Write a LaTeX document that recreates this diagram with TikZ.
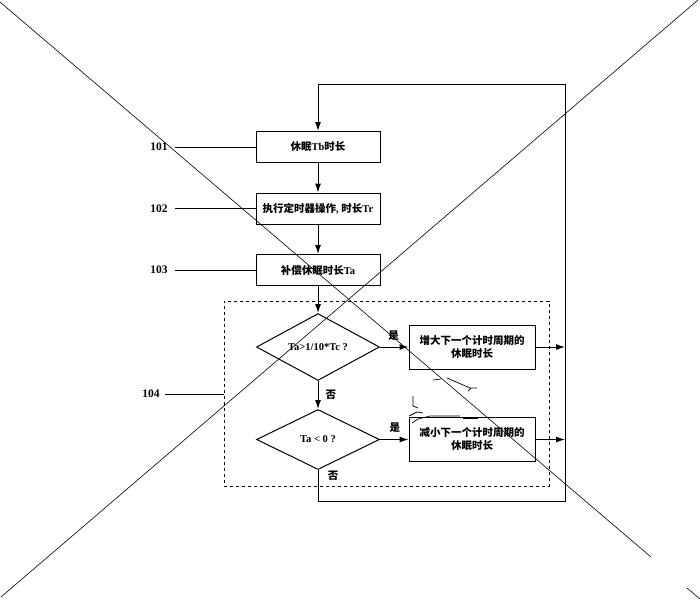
\documentclass[tikz,border=0pt]{standalone}
\usepackage{fontspec}
\setmainfont{Liberation Serif}
\newfontfamily\cjk{Noto Sans CJK SC}
\newcommand{\zh}[1]{{\cjk #1}}
\usetikzlibrary{shapes.geometric,arrows.meta}
\begin{document}
\begin{tikzpicture}[x=1pt,y=-1pt,
  every node/.style={font=\fontsize{10.5}{13}\selectfont\bfseries, inner sep=1pt},
  stepbox/.style={draw, line width=1pt, minimum width=124pt, minimum height=31pt},
  resbox/.style={draw, line width=1pt, minimum width=126pt, minimum height=44pt, align=center},
  decide/.style={draw, diamond, line width=1pt, minimum width=123pt, minimum height=60pt, inner sep=0pt},
  arr/.style={line width=1pt, -{Latex[length=9pt,width=6pt]}},
  lead/.style={line width=0.8pt},
  numlbl/.style={font=\fontsize{11.5}{13}\selectfont\bfseries},
  lbl/.style={font=\fontsize{10.5}{12}\selectfont\bfseries\cjk},
  cross/.style={line width=0.6pt},
  scrib/.style={line width=0.7pt}
]
\useasboundingbox (0,0) rectangle (700,600);

% flow boxes
\node[stepbox] (b1) at (318,147) {\zh{休眠}Tb\zh{时长}};
\node[stepbox] (b2) at (318,208.5) {\zh{执行定时器操作}, \zh{时长}Tr};
\node[stepbox] (b3) at (318,270) {\zh{补偿休眠时长}Ta};

% dashed group
\node[draw, dashed, line width=0.8pt, minimum width=325pt, minimum height=185pt] (grp) at (386.5,393.5) {};

\node[decide] (d1) at (318,347) {Ta>1/10*Tc ?};
\node[decide] (d2) at (318,439.5) {Ta < 0 ?};
\node[resbox] (r1) at (472,347) {\zh{增大下一个计时周期的}\\\zh{休眠时长}};
\node[resbox] (r2) at (472,439.5) {\zh{减小下一个计时周期的}\\\zh{休眠时长}};

% loop coordinates
\coordinate (tl) at (318,84);
\coordinate (tr) at (565,84);
\coordinate (br) at (565,501);
\coordinate (bl) at (318,501);

% connectors
\draw[arr] (b1) -- (b2);
\draw[arr] (b2) -- (b3);
\draw[arr] (b3) -- (d1);
\draw[arr] (d1) -- node[lbl, pos=0.55, above=5pt, xshift=-2pt] {是} (r1);
\draw[arr] (d1) -- node[lbl, right=6pt] {否} (d2);
\draw[arr] (d2) -- node[lbl, pos=0.45, above=5pt, xshift=2pt] {是} (r2);
\draw[arr] (d2.south) -- (bl) -- (br) -- (tr) -- (tl) -- (b1.north);
\node[lbl] (no2) at (333,476) {否};
\draw[arr] (r1.east) -- (r1.east -| br);
\draw[arr] (r2.east) -- (r2.east -| br);

% reference numbers
\node[numlbl] (n101) at (159,147) {101};
\node[numlbl] (n102) at (159,208.5) {102};
\node[numlbl] (n103) at (159,270) {103};
\node[numlbl] (n104) at (151,394) {104};
\draw[lead] ([xshift=6pt]n101.east) -- (b1.west);
\draw[lead] ([xshift=6pt]n102.east) -- (b2.west);
\draw[lead] ([xshift=6pt]n103.east) -- (b3.west);
\draw[lead] ([xshift=4pt]n104.east) -- (n104.east -| grp.west);

% scan scribbles
\draw[scrib] (433,380) -- (441,379);
\draw[scrib] (447,378) -- (470,388) -- (477,388);
\draw[scrib] (468,391) -- (471,388);
\draw[scrib] (413,396) -- (413,406) -- (418,408);
\draw[scrib] (409,416) -- (417,412) -- (423,413);
\draw[scrib] (412,423) -- (418,419) -- (430,416) -- (460,416);
\draw[scrib] (463,418) -- (478,418);

% crossing lines
\draw[cross] (0,2) -- (651,557);
\draw[cross] (687,588) -- (700,599);
\draw[cross] (698,0) -- (1,597);
\end{tikzpicture}
\end{document}
